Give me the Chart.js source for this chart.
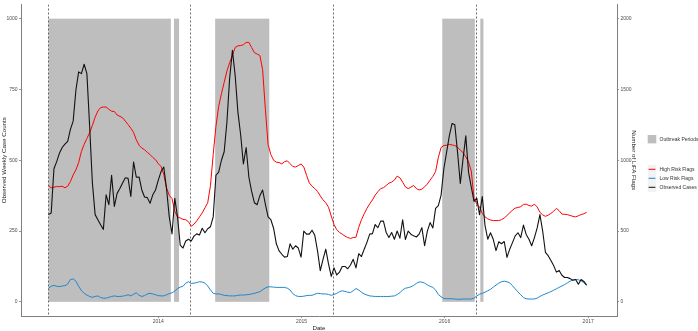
<!DOCTYPE html>
<html><head><meta charset="utf-8">
<script src="https://cdn.jsdelivr.net/npm/chart.js@4.4.1/dist/chart.umd.min.js"></script>
<style>html,body{margin:0;padding:0;background:#fff;}canvas{display:block;}</style>
</head><body>
<canvas id="c" width="698" height="331"></canvas>
<script>
// ---- data (weekly series starting at seriesStart) ----
const seriesStart = '2013-03-27';

const observedCases = [
308,314,470,495,525,545,557,567,609,638,
748,812,806,839,806,620,420,308,290,272,
256,378,343,447,337,383,400,420,438,436,
372,494,440,441,395,370,368,348,378,395,
430,460,476,400,300,240,366,300,200,190,
215,221,215,232,240,236,260,244,258,265,
300,447,458,500,530,635,790,888,800,670,
590,487,545,440,390,350,343,375,395,345,
300,290,260,205,180,168,158,160,205,186,
198,190,158,250,239,239,253,235,180,110,
150,186,134,90,120,95,105,125,125,117,
130,150,120,170,160,186,210,239,241,273,
262,285,285,245,227,245,221,250,225,290,
220,250,239,233,229,239,262,198,250,280,
261,330,340,377,470,528,586,630,625,528,
418,505,586,458,405,355,366,308,372,270,
221,244,221,181,212,205,213,157,186,209,
233,244,227,271,238,221,198,227,261,308,
250,175,163,146,128,105,111,94,86,86,
82,76,79,62,79,72,59];

const highRiskFlags = [
824,804,810,814,814,816,806,816,850,896,
932,984,1062,1112,1154,1194,1246,1304,1348,1372,
1376,1376,1360,1346,1344,1320,1310,1300,1276,1252,
1226,1196,1144,1106,1086,1074,1056,1040,1020,1004,
976,956,900,804,752,730,640,600,592,582,
580,566,534,548,572,600,628,664,700,820,
1040,1240,1380,1470,1550,1630,1690,1740,1796,1808,
1810,1816,1832,1832,1796,1760,1750,1740,1640,1360,
1110,1040,1000,986,984,974,990,996,976,956,
952,962,974,952,894,840,816,800,780,748,
720,700,668,606,546,510,490,478,464,454,
448,454,456,526,580,622,660,692,720,754,
778,800,806,822,838,846,860,888,876,846,
812,800,810,822,800,790,796,812,832,860,
886,920,1020,1090,1104,1106,1112,1108,1104,1092,
1072,1054,1024,988,924,730,690,670,624,600,
586,578,574,574,574,580,592,610,628,648,
662,666,672,688,690,680,676,690,670,632,
614,604,612,624,640,660,644,620,618,616,
610,604,600,608,616,622,632];

const lowRiskFlags = [
96,110,116,110,108,112,114,126,158,162,
146,110,80,60,48,38,32,38,42,30,
26,26,32,38,42,38,38,40,44,50,
42,54,64,46,38,44,56,60,56,50,
44,42,42,50,58,64,76,94,104,110,
132,142,130,132,136,142,140,132,112,84,
60,56,56,52,46,44,42,42,42,46,
48,48,50,52,56,60,66,72,86,98,
106,106,104,102,102,102,102,96,84,58,
44,38,38,40,44,46,46,54,60,58,
56,56,52,46,52,60,72,78,74,68,
66,78,94,84,68,56,48,42,40,38,
38,38,38,38,38,40,42,52,64,84,
96,100,106,116,130,140,140,132,120,110,
102,84,52,36,24,22,22,22,20,18,
18,20,20,20,20,26,42,54,60,68,
78,88,104,118,132,142,146,142,134,114,
92,70,50,30,22,20,20,20,26,38,
48,56,64,72,82,92,102,112,122,134,
146,154,158,156,148,136,116];

const outbreakStarts = ['2013-03-27','2014-02-10','2014-05-26','2015-12-26','2016-04-01'];
const outbreakEnds   = ['2014-02-02','2014-02-23','2014-10-11','2016-03-18','2016-04-09'];
const seasonMarkers  = ['2013-03-27','2014-03-23','2015-03-22','2016-03-20'];
const yearTicks = [2014, 2015, 2016, 2017];
const caseTicks = [0, 250, 500, 750, 1000];
const flagTicks = [0, 500, 1000, 1500, 2000];

// ---- helpers ----
const DAY = 86400000;
const t0 = Date.parse(seriesStart);
const dayOf = s => (Date.parse(s) - t0) / DAY;
const weekDays = observedCases.map((_, i) => i * 7);
const toPts = arr => arr.map((v, i) => ({ x: weekDays[i], y: v }));

const FONT = '"Liberation Sans", Arial, sans-serif';
const AXIS = '#7f7f7f';

const overlay = {
  id: 'overlay',
  beforeDatasetsDraw(chart) {
    const { ctx, chartArea: a, scales: { x, y } } = chart;
    ctx.save();
    ctx.beginPath(); ctx.rect(a.left, a.top, a.right - a.left, a.bottom - a.top); ctx.clip();
    ctx.fillStyle = '#bebebe';
    const yTop = y.getPixelForValue(1000), yBot = y.getPixelForValue(0);
    outbreakStarts.forEach((s, i) => {
      const x1 = x.getPixelForValue(dayOf(s)), x2 = x.getPixelForValue(dayOf(outbreakEnds[i]));
      ctx.fillRect(x1, yTop, x2 - x1, yBot - yTop);
    });
    ctx.strokeStyle = '#444';
    ctx.lineWidth = 0.8;
    ctx.setLineDash([2, 2]);
    seasonMarkers.forEach(s => {
      const px = Math.round(x.getPixelForValue(dayOf(s))) + 0.5;
      ctx.beginPath(); ctx.moveTo(px, a.top); ctx.lineTo(px, a.bottom); ctx.stroke();
    });
    ctx.restore();
  },
  afterDraw(chart) {
    const { ctx, chartArea: a } = chart;
    ctx.save();
    ctx.fillStyle = '#222';
    ctx.textAlign = 'center'; ctx.textBaseline = 'middle';
    ctx.font = `6.2px ${FONT}`;
    const cy = (a.top + a.bottom) / 2;
    ctx.fillText('Date', (a.left + a.right) / 2, 328.3);
    ctx.save(); ctx.translate(4, cy); ctx.rotate(-Math.PI / 2);
    ctx.fillText('Observed Weekly Case Counts', 0, 0); ctx.restore();
    ctx.save(); ctx.translate(634, cy); ctx.rotate(Math.PI / 2);
    ctx.fillText('Number of LiFA Flags', 0, 0); ctx.restore();

    // legend
    const kx = 647.7, kw = 8.6, tx = 659.5;
    ctx.font = `5px ${FONT}`;
    ctx.textAlign = 'left';
    ctx.fillStyle = '#bebebe';
    ctx.fillRect(kx, 135, kw, 8.4);
    ctx.fillStyle = '#333';
    ctx.fillText('Outbreak Periods', tx, 139.2);
    const items = [['High Risk Flags', '#ff0000', 169.3], ['Low Risk Flags', '#1f87cc', 178.3], ['Observed Cases', '#111111', 187.3]];
    items.forEach(([lab, col, yy]) => {
      ctx.fillStyle = '#f2f2f2';
      ctx.fillRect(kx, yy - 4.5, kw, 9);
      ctx.strokeStyle = col; ctx.lineWidth = 1; ctx.setLineDash([]);
      ctx.beginPath(); ctx.moveTo(kx + 0.9, yy); ctx.lineTo(kx + kw - 0.9, yy); ctx.stroke();
      ctx.fillStyle = '#333';
      ctx.fillText(lab, tx, yy);
    });
    ctx.restore();
  }
};

const tickFont = { family: FONT, size: 5 };
const gridOpts = { display: true, drawOnChartArea: false, drawTicks: true, tickLength: 2, color: AXIS, lineWidth: 0.8 };
const borderOpts = { display: true, color: AXIS, width: 1 };

new Chart(document.getElementById('c'), {
  type: 'line',
  data: {
    datasets: [
      { label: 'Observed Cases', data: toPts(observedCases), yAxisID: 'y', borderColor: '#111111', borderWidth: 1.1, order: 0 },
      { label: 'Low Risk Flags', data: toPts(lowRiskFlags), yAxisID: 'y2', borderColor: '#1f87cc', borderWidth: 1, order: 1 },
      { label: 'High Risk Flags', data: toPts(highRiskFlags), yAxisID: 'y2', borderColor: '#ff0000', borderWidth: 1, order: 2 }
    ]
  },
  options: {
    responsive: false, animation: false, devicePixelRatio: 1,
    layout: { padding: 0 },
    plugins: { legend: { display: false }, tooltip: { enabled: false } },
    elements: { point: { radius: 0 }, line: { tension: 0, borderJoinStyle: 'round', fill: false } },
    scales: {
      x: {
        type: 'linear', position: 'bottom', min: -70, max: 1449.5,
        afterBuildTicks: s => { s.ticks = yearTicks.map(yr => ({ value: dayOf(yr + '-01-01') })); },
        afterFit: s => { s.height = 15; },
        grid: gridOpts, border: borderOpts,
        ticks: { callback: (v, i) => String(yearTicks[i]), font: tickFont, color: '#4d4d4d', padding: 1, maxRotation: 0, autoSkip: false }
      },
      y: {
        position: 'left', min: -50, max: 1050,
        afterBuildTicks: s => { s.ticks = caseTicks.map(v => ({ value: v })); },
        afterFit: s => { s.width = 21; },
        grid: gridOpts, border: borderOpts,
        ticks: { callback: v => String(v), font: tickFont, color: '#4d4d4d', padding: 1.5 }
      },
      y2: {
        position: 'right', min: -100, max: 2100,
        afterBuildTicks: s => { s.ticks = flagTicks.map(v => ({ value: v })); },
        afterFit: s => { s.width = 81; },
        grid: gridOpts, border: borderOpts,
        ticks: { callback: v => String(v), font: tickFont, color: '#4d4d4d', padding: 1.5 }
      }
    }
  },
  plugins: [overlay]
});
</script>
</body></html>
